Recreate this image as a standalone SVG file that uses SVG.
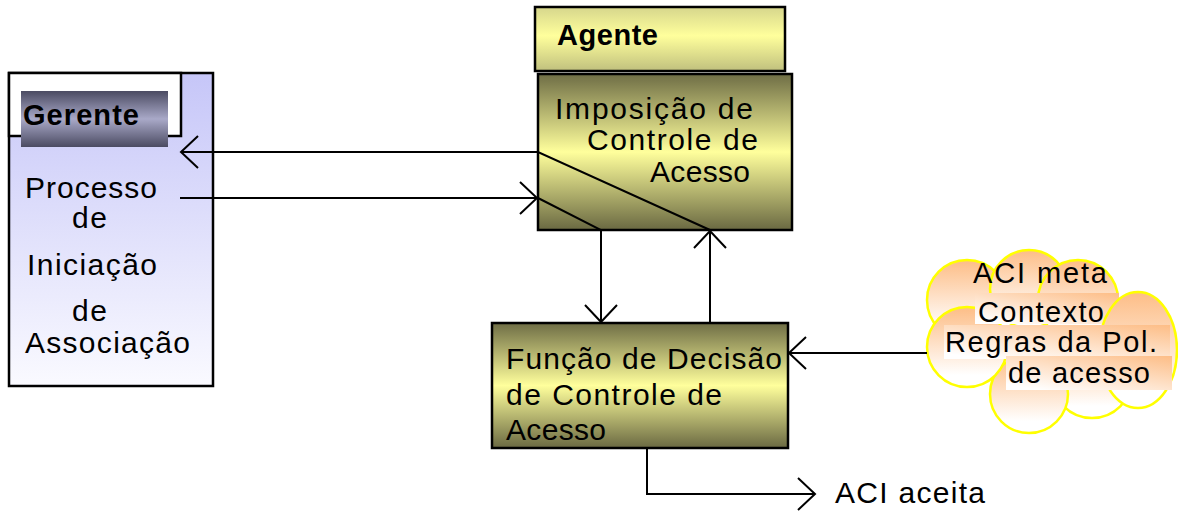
<svg xmlns="http://www.w3.org/2000/svg" width="1178" height="514" viewBox="0 0 1178 514">
<defs>
<style>
.t{font-family:"Liberation Sans",Arial,sans-serif;font-size:30px;fill:#000}
.tc{font-family:"Liberation Sans",Arial,sans-serif;font-size:29px;fill:#000}
.b{font-family:"Liberation Sans",Arial,sans-serif;font-size:29px;font-weight:bold;fill:#000}
.box{stroke:#000;stroke-width:2.5}
.c{fill:none;stroke:#000;stroke-width:2;marker-end:url(#ah)}
.cl{fill:url(#gCloud);stroke:#ffff00;stroke-width:2.5}
</style>
<marker id="ah" markerUnits="userSpaceOnUse" viewBox="-20 -20 24 40" refX="0" refY="0" markerWidth="24" markerHeight="40" orient="auto" overflow="visible">
<path d="M-17,-16 L0,0 L-17,16" fill="none" stroke="#000" stroke-width="2"/>
</marker>
<linearGradient id="gLav" x1="0" y1="0" x2="0" y2="1">
<stop offset="0" stop-color="#c6c6f8"/><stop offset="1" stop-color="#fafaff"/>
</linearGradient>
<linearGradient id="gDark" x1="0" y1="0" x2="0" y2="1">
<stop offset="0" stop-color="#4b4b62"/><stop offset="0.5" stop-color="#a9a9c8"/><stop offset="1" stop-color="#4b4b62"/>
</linearGradient>
<linearGradient id="gAg" x1="0" y1="0" x2="0" y2="1">
<stop offset="0" stop-color="#d6d68c"/><stop offset="0.45" stop-color="#ffff9c"/><stop offset="1" stop-color="#c0c07e"/>
</linearGradient>
<linearGradient id="gOl" x1="0" y1="0" x2="0" y2="1">
<stop offset="0" stop-color="#6e6d45"/><stop offset="0.5" stop-color="#ffff9c"/><stop offset="1" stop-color="#6a6942"/>
</linearGradient>
<linearGradient id="gCloud" x1="0" y1="0" x2="0" y2="1">
<stop offset="0" stop-color="#fdbd86"/><stop offset="0.85" stop-color="#ffffff"/>
</linearGradient>
<linearGradient id="gTxt" x1="1" y1="0" x2="0.2" y2="1">
<stop offset="0" stop-color="#fdbd86"/><stop offset="1" stop-color="#ffffff"/>
</linearGradient>
</defs>

<g id="gerente">
<rect class="box" x="9" y="73" width="204" height="313" fill="url(#gLav)"/>
<rect class="box" x="9" y="73" width="172" height="63" fill="#ffffff"/>
<rect x="21" y="91" width="147" height="56" fill="url(#gDark)"/>
<text class="b" x="23" y="125" textLength="116" lengthAdjust="spacing">Gerente</text>
<text class="t" x="25" y="198" textLength="132" lengthAdjust="spacing">Processo</text>
<text class="t" x="72" y="228" textLength="35" lengthAdjust="spacing">de</text>
<text class="t" x="27" y="275" textLength="130" lengthAdjust="spacing">Iniciação</text>
<text class="t" x="72" y="321" textLength="35" lengthAdjust="spacing">de</text>
<text class="t" x="25" y="353" textLength="165" lengthAdjust="spacing">Associação</text>
</g>

<g id="agente">
<rect class="box" x="535" y="7" width="250" height="64" fill="url(#gAg)"/>
<text class="b" x="557" y="45" textLength="101" lengthAdjust="spacing">Agente</text>
</g>

<g id="imposicao">
<rect class="box" x="538" y="74" width="254" height="156" fill="url(#gOl)"/>
<text class="t" x="555" y="119" textLength="198" lengthAdjust="spacing">Imposição de</text>
<text class="t" x="587" y="150" textLength="171" lengthAdjust="spacing">Controle de</text>
<text class="t" x="650" y="182" textLength="100" lengthAdjust="spacing">Acesso</text>
</g>

<g id="funcao">
<rect class="box" x="492" y="323" width="296" height="125" fill="url(#gOl)"/>
<text class="t" x="506" y="369" textLength="276" lengthAdjust="spacing">Função de Decisão</text>
<text class="t" x="506" y="405" textLength="216" lengthAdjust="spacing">de Controle de</text>
<text class="t" x="506" y="440" textLength="100" lengthAdjust="spacing">Acesso</text>
</g>

<g id="aci-cloud">
<circle class="cl" cx="967" cy="300" r="40"/>
<circle class="cl" cx="1029" cy="289" r="39"/>
<circle class="cl" cx="1078" cy="300" r="40"/>
<circle class="cl" cx="1092" cy="378" r="40"/>
<circle class="cl" cx="1029" cy="394" r="39"/>
<circle class="cl" cx="967" cy="347" r="40"/>
<text class="tc" x="973" y="283" textLength="134" lengthAdjust="spacing">ACI meta</text>
<rect x="975" y="293" width="144" height="31" fill="url(#gTxt)"/>
<text class="tc" x="978" y="322" textLength="126" lengthAdjust="spacing">Contexto</text>
<ellipse class="cl" cx="1138" cy="350" rx="39" ry="58"/>
<rect x="944" y="325" width="226" height="34" fill="url(#gTxt)"/>
<text class="tc" x="945" y="352" textLength="212" lengthAdjust="spacing">Regras da Pol.</text>
<rect x="1006" y="356" width="166" height="34" fill="url(#gTxt)"/>
<text class="tc" x="1008" y="383" textLength="142" lengthAdjust="spacing">de acesso</text>
</g>

<g id="aci-aceita">
<text class="t" x="835" y="503" textLength="150" lengthAdjust="spacing">ACI aceita</text>
</g>

<g id="connectors">
<path class="c" d="M710,323 V231"/>
<path class="c" d="M710,230 L538,152 H181"/>
<path class="c" d="M180,198 H537"/>
<path class="c" d="M538,198 L601,230 V322"/>
<path class="c" d="M927,353 H789"/>
<path class="c" d="M647,448 V494 H815"/>
</g>
</svg>
